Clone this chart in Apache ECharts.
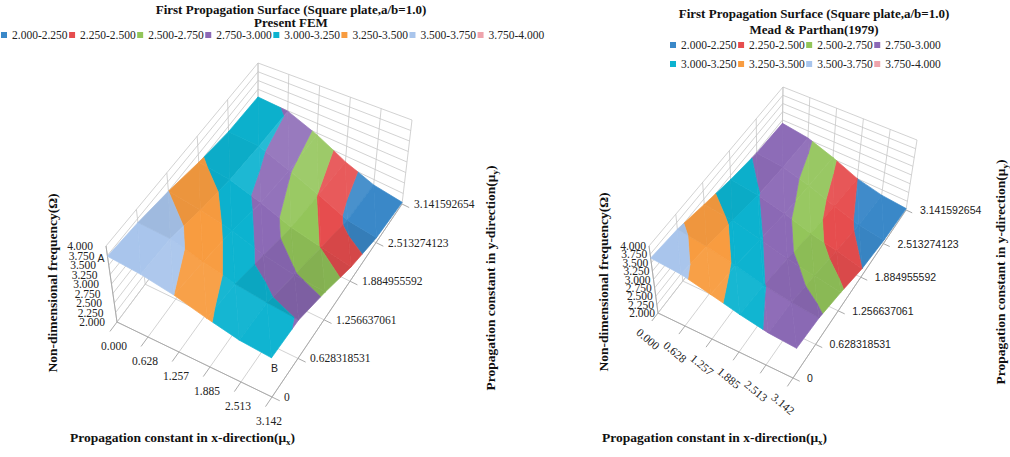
<!DOCTYPE html>
<html>
<head>
<meta charset="utf-8">
<title>First Propagation Surface (Square plate, a/b=1.0)</title>
<script src="https://cdn.jsdelivr.net/npm/echarts@6/dist/echarts.min.js"></script>
<style>
  html, body { margin: 0; padding: 0; background: #fff; }
  #chart { width: 1010px; height: 457px; }
</style>
</head>
<body>
<div id="chart"></div>
<script>
// propagation constants (grid of the surface)
const muX = [0, 0.628, 1.257, 1.885, 2.513, 3.142];
const muY = [0, 0.628318531, 1.256637061, 1.884955592, 2.513274123, 3.141592654];
const xTickLabels = ['0.000', '0.628', '1.257', '1.885', '2.513', '3.142'];
const yTickLabels = ['0', '0.628318531', '1.256637061', '1.884955592', '2.513274123', '3.141592654'];
const zTicks = [2, 2.25, 2.5, 2.75, 3, 3.25, 3.5, 3.75, 4];
const zTickLabels = ['2.000', '2.250', '2.500', '2.750', '3.000', '3.250', '3.500', '3.750', '4.000'];
const bandNames = ['2.000-2.250', '2.250-2.500', '2.500-2.750', '2.750-3.000',
  '3.000-3.250', '3.250-3.500', '3.500-3.750', '3.750-4.000'];

// non-dimensional frequency, rows = muX index, columns = muY index
const femOmega = [
  [3.73, 3.65, 3.50, 3.28, 3.10, 3.03],
  [3.65, 3.60, 3.37, 3.17, 3.06, 2.99],
  [3.50, 3.37, 3.19, 2.92, 2.77, 2.70],
  [3.28, 3.17, 2.92, 2.64, 2.49, 2.35],
  [3.10, 3.06, 2.77, 2.49, 2.20, 2.12],
  [3.03, 2.99, 2.70, 2.35, 2.12, 2.04]
];
const meadOmega = [
  [3.64, 3.55, 3.34, 3.13, 2.97, 2.90],
  [3.55, 3.41, 3.22, 3.01, 2.88, 2.79],
  [3.34, 3.22, 3.02, 2.81, 2.67, 2.54],
  [3.13, 3.01, 2.81, 2.58, 2.42, 2.25],
  [2.97, 2.88, 2.67, 2.42, 2.20, 2.10],
  [2.90, 2.79, 2.54, 2.25, 2.10, 2.04]
];

const titleMain = 'First Propagation Surface (Square plate,a/b=1.0)';
const titleSubs = ['Present FEM', 'Mead & Parthan(1979)'];

const bandColors = ['#3a88c8', '#e64d4e', '#93c55a', '#8c6ab6', '#0cb3d0', '#f89c40', '#a9c5ec', '#eea4ac'];
const SERIF = '"Liberation Serif", "Times New Roman", serif';
const SANS = '"Liberation Sans", Arial, sans-serif';

// box corners of each 3D plot on the canvas: floor / top, order (0,0) (1,0) (1,1) (0,1) in (muX, muY)
const panels = [
  {
    omega: femOmega,
    floor: [[117, 322], [272, 397], [402, 204], [258, 133]],
    top: [[106, 246], [271, 321], [412, 120], [258, 63]],
    zLabelGap: [13, 12],
    xLabelOffset: [-3, 24], xLabelRotate: 0,
    yLabelOffset: 12, yLabelFont: SERIF,
    corners: true
  },
  {
    omega: meadOmega,
    floor: [[658, 313], [793, 378], [906, 210], [782, 153]],
    top: [[649, 246], [801, 312], [917, 140], [783, 87]],
    zLabelGap: [3, 3],
    xLabelOffset: [-10, 26], xLabelRotate: -40,
    yLabelOffset: 14, yLabelFont: SANS,
    corners: false
  }
];

const zMin = zTicks[0], zMax = zTicks[zTicks.length - 1];
const uOf = i => muX[i] / muX[muX.length - 1];
const vOf = j => muY[j] / muY[muY.length - 1];
const wOf = f => (f - zMin) / (zMax - zMin);

function bilinear(q, u, v) {
  const a = (1 - u) * (1 - v), b = u * (1 - v), c = u * v, d = (1 - u) * v;
  return [
    q[0][0] * a + q[1][0] * b + q[2][0] * c + q[3][0] * d,
    q[0][1] * a + q[1][1] * b + q[2][1] * c + q[3][1] * d
  ];
}

function project(panel, u, v, w) {
  const f = bilinear(panel.floor, u, v);
  const t = bilinear(panel.top, u, v);
  return [f[0] + (t[0] - f[0]) * w, f[1] + (t[1] - f[1]) * w];
}

function shade(hex, k) {
  const n = parseInt(hex.slice(1), 16);
  const ch = [n >> 16, (n >> 8) & 255, n & 255].map(c =>
    Math.round(k >= 0 ? c + (255 - c) * k : c * (1 + k)));
  return 'rgb(' + ch.join(',') + ')';
}

// split every grid cell into two triangles, keep the facet lighting with them
function buildTriangles(omega) {
  const tris = [];
  const node = (a, b) => ({ u: uOf(a), v: vOf(b), f: omega[a][b] });
  for (let i = 0; i < muX.length - 1; i++) {
    for (let j = 0; j < muY.length - 1; j++) {
      [[node(i, j), node(i + 1, j), node(i, j + 1)],
       [node(i + 1, j), node(i + 1, j + 1), node(i, j + 1)]].forEach(tri => {
        const [p0, p1, p2] = tri;
        const a = [p1.u - p0.u, p1.v - p0.v, wOf(p1.f) - wOf(p0.f)];
        const b = [p2.u - p0.u, p2.v - p0.v, wOf(p2.f) - wOf(p0.f)];
        let n = [a[1] * b[2] - a[2] * b[1], a[2] * b[0] - a[0] * b[2], a[0] * b[1] - a[1] * b[0]];
        if (n[2] < 0) n = n.map(x => -x);
        const len = Math.hypot(n[0], n[1], n[2]);
        tri.light = 0.7 * (n[0] - n[1]) / len;
        tris.push(tri);
      });
    }
  }
  return tris;
}
panels.forEach(p => { p.tris = buildTriangles(p.omega); });

function clipPoly(poly, level, keepAbove) {
  const out = [];
  for (let k = 0; k < poly.length; k++) {
    const p = poly[k], q = poly[(k + 1) % poly.length];
    const pin = keepAbove ? p.f >= level : p.f <= level;
    const qin = keepAbove ? q.f >= level : q.f <= level;
    if (pin) out.push(p);
    if (pin !== qin) {
      const t = (level - p.f) / (q.f - p.f);
      out.push({ u: p.u + (q.u - p.u) * t, v: p.v + (q.v - p.v) * t, f: level });
    }
  }
  return out;
}

function bandRenderer(b) {
  const lo = zTicks[b], hi = zTicks[b + 1];
  return function (params, api) {
    const panel = panels[api.value(0)];
    const children = [];
    panel.tris.forEach(tri => {
      let poly = clipPoly(tri, lo, true);
      if (poly.length >= 3) poly = clipPoly(poly, hi, false);
      if (poly.length < 3) return;
      const color = shade(bandColors[b], tri.light * 0.35);
      children.push({
        type: 'polygon',
        shape: { points: poly.map(p => api.coord(project(panel, p.u, p.v, wOf(p.f)))) },
        style: { fill: color, stroke: color, lineWidth: 0.7, lineJoin: 'round' }
      });
    });
    return { type: 'group', children };
  };
}

function frameRenderer(params, api) {
  const panel = panels[api.value(0)];
  const pt = (u, v, w) => api.coord(project(panel, u, v, w));
  const children = [];
  const line = (a, b, stroke, width) => children.push({
    type: 'line',
    shape: { x1: a[0], y1: a[1], x2: b[0], y2: b[1] },
    style: { stroke: stroke || '#c6c6c6', lineWidth: width || 0.8 }
  });
  zTicks.forEach(z => {
    const w = wOf(z);
    line(pt(0, 0, w), pt(0, 1, w));
    line(pt(0, 1, w), pt(1, 1, w));
  });
  muY.forEach((_, j) => {
    const v = vOf(j);
    line(pt(0, v, 0), pt(0, v, 1));
    line(pt(0, v, 0), pt(1, v, 0));
    line(pt(1, v, 0), pt(1.05, v, 0), '#ababab', 1);
  });
  muX.forEach((_, i) => {
    const u = uOf(i);
    line(pt(u, 1, 0), pt(u, 1, 1));
    line(pt(u, 0, 0), pt(u, 1, 0));
    line(pt(u, 0, 0), pt(u, -0.05, 0), '#ababab', 1);
  });
  line(pt(0, 0, 0), pt(1, 0, 0), '#ababab', 1);
  line(pt(1, 0, 0), pt(1, 1, 0), '#ababab', 1);
  line(pt(0, 0, 0), pt(0, 0, 1), '#ababab', 1);
  return { type: 'group', children };
}

function labelRenderer(params, api) {
  const panel = panels[api.value(0)];
  const pt = (u, v, w) => api.coord(project(panel, u, v, w));
  const children = [];
  const text = (str, p, style, rotation) => children.push({
    type: 'text', x: p[0], y: p[1], rotation: rotation || 0,
    style: Object.assign({ text: str, fill: '#222', fontSize: 11.5, fontFamily: SERIF,
      align: 'center', verticalAlign: 'middle' }, style)
  });
  // the value labels sit closer than their height, as in the original
  zTicks.forEach((z, k) => {
    const w = wOf(z);
    const p = pt(0, 0, w);
    const gap = panel.zLabelGap[1] + (panel.zLabelGap[0] - panel.zLabelGap[1]) * w;
    text(zTickLabels[k], [p[0] - gap, p[1]], { align: 'right', lineHeight: 8 });
  });
  muX.forEach((_, i) => {
    const p = pt(uOf(i), 0, 0);
    text(xTickLabels[i], [p[0] + panel.xLabelOffset[0], p[1] + panel.xLabelOffset[1]], {},
      panel.xLabelRotate * Math.PI / 180);
  });
  muY.forEach((_, j) => {
    const p = pt(1, vOf(j), 0);
    text(yTickLabels[j], [p[0] + panel.yLabelOffset, p[1]],
      { align: 'left', fontFamily: panel.yLabelFont, fontSize: panel.yLabelFont === SANS ? 10.5 : 11.5 });
  });
  if (panel.corners) {
    const last = muX.length - 1;
    const a = pt(0, 0, wOf(panel.omega[0][0]));
    const b = pt(1, 0, wOf(panel.omega[last][0]));
    text('A', [a[0] - 3, a[1] + 2], { align: 'right', fontFamily: SANS, fontSize: 10.5, lineHeight: 8 });
    text('B', [b[0] + 3, b[1] + 10], { fontFamily: SANS, fontSize: 10.5 });
  }
  return { type: 'group', children };
}

const panelData = panels.map((_, k) => [k, 0]);

const series = [{
  type: 'custom', name: 'frame', silent: true, clip: false,
  renderItem: frameRenderer, data: panelData, z: 1
}];
bandNames.forEach((name, b) => series.push({
  type: 'custom', name, clip: false, silent: true,
  itemStyle: { color: bandColors[b] },
  renderItem: bandRenderer(b), data: panelData, z: 2
}));
series.push({
  type: 'custom', name: 'labels', silent: true, clip: false,
  renderItem: labelRenderer, data: panelData, z: 3
});

const legendBase = {
  icon: 'rect', itemWidth: 6, itemHeight: 6, itemGap: 1.5, padding: 0,
  textStyle: { fontFamily: SERIF, fontSize: 11.5, lineHeight: 11, color: '#222' }
};

const titleStyle = { fontFamily: SERIF, fontWeight: 'bold', fontSize: 13, lineHeight: 13, fill: '#111',
  align: 'center', verticalAlign: 'middle' };
const axisTitle = { fontFamily: SERIF, fontWeight: 'bold', fontSize: 13.5, fill: '#111', lineHeight: 18,
  align: 'center', verticalAlign: 'middle', rich: { sub: { fontFamily: SERIF, fontWeight: 'bold', fontSize: 9,
  lineHeight: 10, verticalAlign: 'bottom', fill: '#111' } } };

function axisText(x, y, str, rotation, align) {
  return { type: 'text', x, y, rotation: rotation || 0, silent: true,
    style: Object.assign({}, axisTitle, { text: str, align: align || 'center' }) };
}
function titleText(x, y, str) {
  return { type: 'text', x, y, silent: true, style: Object.assign({}, titleStyle, { text: str }) };
}

const chart = echarts.init(document.getElementById('chart'), null, { renderer: 'svg' });
chart.setOption({
  animation: false,
  backgroundColor: '#fff',
  legend: [
    Object.assign({ data: bandNames, left: 1, top: 29 }, legendBase),
    Object.assign({ data: bandNames.slice(0, 4), left: 670, top: 39 }, legendBase),
    Object.assign({ data: bandNames.slice(4), left: 670, top: 58 }, legendBase)
  ],
  grid: { left: 0, right: 0, top: 0, bottom: 0 },
  xAxis: { type: 'value', min: 0, max: 1010, show: false },
  yAxis: { type: 'value', min: 0, max: 457, inverse: true, show: false },
  graphic: [
    titleText(291, 9, titleMain),
    titleText(291, 22.5, titleSubs[0]),
    titleText(814, 13, titleMain),
    titleText(814, 29, titleSubs[1]),
    axisText(52, 283, 'Non-dimensional frequency(Ω)', Math.PI / 2),
    axisText(70, 437, 'Propagation constant in x-direction(μ{sub|x})', 0, 'left'),
    axisText(490, 278, 'Propagation constant in y-direction(μ{sub|y})', Math.PI / 2),
    axisText(603, 282, 'Non-dimensional frequency(Ω)', Math.PI / 2),
    axisText(602, 437, 'Propagation constant in x-direction(μ{sub|x})', 0, 'left'),
    axisText(1000, 272, 'Propagation constant in y-direction(μ{sub|y})', Math.PI / 2)
  ],
  series
});
</script>
</body>
</html>
